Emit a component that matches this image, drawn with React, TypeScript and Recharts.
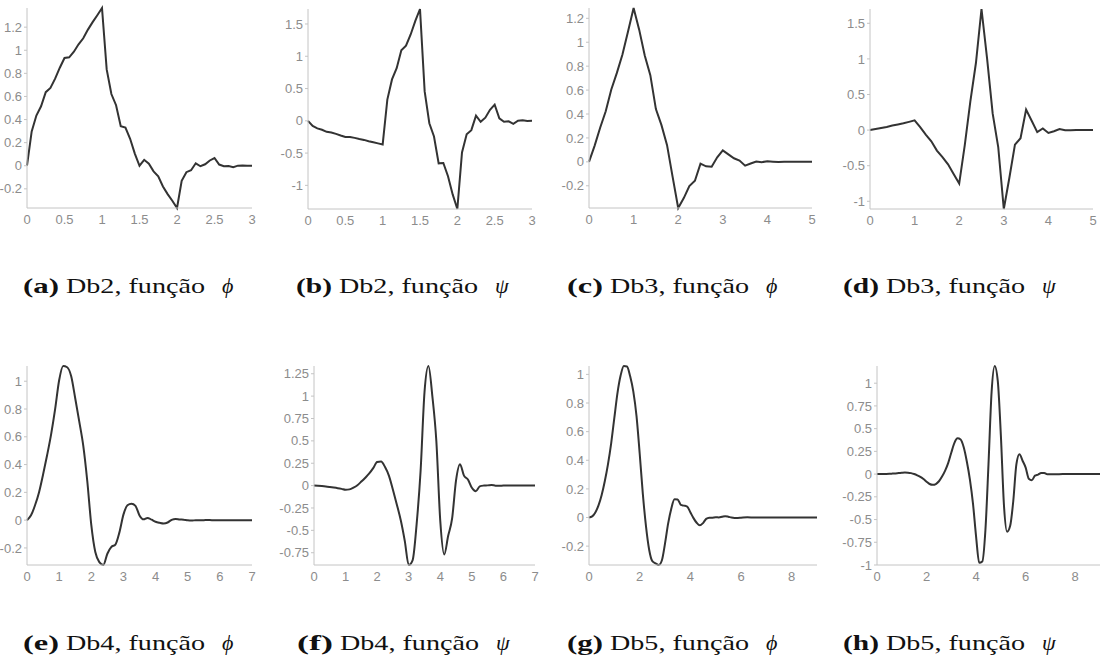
import React from 'react';
import { LineChart, Line, XAxis, YAxis } from 'recharts';

type Pt = [number, number];

// Daubechies 2 scaling function, support [0, 3]
const db2Phi: Pt[] = [
  [0, 0], [0.0625, 0.297], [0.125, 0.435], [0.1875, 0.515], [0.25, 0.637], [0.3125, 0.674],
  [0.375, 0.754], [0.4375, 0.849], [0.5, 0.933], [0.5625, 0.939], [0.625, 0.987], [0.6875, 1.0515],
  [0.75, 1.104], [0.8125, 1.179], [0.875, 1.2435], [0.9375, 1.3035], [1, 1.366], [1.0625, 0.8343],
  [1.125, 0.621], [1.1875, 0.524], [1.25, 0.342], [1.3125, 0.33], [1.375, 0.2335], [1.4375, 0.1054],
  [1.5, 0], [1.5625, 0.0512], [1.625, 0.0169], [1.6875, -0.0489], [1.75, -0.0915], [1.8125, -0.1798],
  [1.875, -0.2454], [1.9375, -0.3028], [2, -0.366], [2.0625, -0.1313], [2.125, -0.0559], [2.1875, -0.0386],
  [2.25, 0.0212], [2.3125, -0.0043], [2.375, 0.0128], [2.4375, 0.0456], [2.5, 0.067], [2.5625, 0.0102],
  [2.625, -0.0039], [2.6875, -0.0023], [2.75, -0.0122], [2.8125, 0.0007], [2.875, 0.0022], [2.9375, -0.0004],
  [3, 0],
];

// Daubechies 2 wavelet, support [0, 3]
const db2Psi: Pt[] = [
  [0, 0], [0.0625, -0.0796], [0.125, -0.1166], [0.1875, -0.138], [0.25, -0.1707], [0.3125, -0.1806],
  [0.375, -0.202], [0.4375, -0.2276], [0.5, -0.25], [0.5625, -0.2515], [0.625, -0.2645], [0.6875, -0.2817],
  [0.75, -0.2958], [0.8125, -0.316], [0.875, -0.3333], [0.9375, -0.3493], [1, -0.366], [1.0625, 0.3279],
  [1.125, 0.6413], [1.1875, 0.8157], [1.25, 1.0914], [1.3125, 1.1629], [1.375, 1.3372], [1.4375, 1.5484],
  [1.5, 1.732], [1.5625, 0.4552], [1.625, -0.0372], [1.6875, -0.2429], [1.75, -0.6584], [1.8125, -0.6529],
  [1.875, -0.8583], [1.9375, -1.1403], [2, -1.366], [2.0625, -0.4902], [2.125, -0.2085], [2.1875, -0.1444],
  [2.25, 0.0793], [2.3125, -0.0161], [2.375, 0.0481], [2.4375, 0.1702], [2.5, 0.25], [2.5625, 0.0382],
  [2.625, -0.0145], [2.6875, -0.0087], [2.75, -0.0458], [2.8125, 0.0027], [2.875, 0.0083], [2.9375, -0.0015],
  [3, 0],
];

// Daubechies 3 scaling function, support [0, 5]
const db3Phi: Pt[] = [
  [0, 0], [0.125, 0.134], [0.25, 0.2848], [0.375, 0.4226], [0.5, 0.6052], [0.625, 0.7437],
  [0.75, 0.8982], [0.875, 1.0906], [1, 1.2863], [1.125, 1.1053], [1.25, 0.89], [1.375, 0.7244],
  [1.5, 0.4412], [1.625, 0.3071], [1.75, 0.1396], [1.875, -0.1255], [2, -0.3858], [2.125, -0.303],
  [2.25, -0.2029], [2.375, -0.158], [2.5, -0.015], [2.625, -0.037], [2.75, -0.0406], [2.875, 0.0376],
  [3, 0.0953], [3.125, 0.0621], [3.25, 0.0299], [3.375, 0.0113], [3.5, -0.0315], [3.625, -0.0134],
  [3.75, 0.0031], [3.875, -0.0024], [4, 0.0042], [4.125, 0.0017], [4.25, -0.0016], [4.375, 0.0002],
  [4.5, 0.0002], [4.625, -0.0001], [4.75, 0], [4.875, 0], [5, 0],
];

// Daubechies 3 wavelet, support [0, 5]
const db3Psi: Pt[] = [
  [0, 0], [0.125, 0.0142], [0.25, 0.0301], [0.375, 0.0447], [0.5, 0.0641], [0.625, 0.0787],
  [0.75, 0.0951], [0.875, 0.1155], [1, 0.1362], [1.125, 0.043], [1.25, -0.0629], [1.375, -0.1566],
  [1.5, -0.2875], [1.625, -0.3781], [1.75, -0.4812], [1.875, -0.6155], [2, -0.7512], [2.125, -0.2117],
  [2.25, 0.4027], [2.375, 0.9423], [2.5, 1.701], [2.625, 1.0077], [2.75, 0.2346], [2.875, -0.2375],
  [3, -1.1082], [3.125, -0.6693], [3.25, -0.2042], [3.375, -0.114], [3.5, 0.2875], [3.625, 0.1306],
  [3.75, -0.0289], [3.875, 0.0226], [4, -0.04], [4.125, -0.0159], [4.25, 0.015], [4.375, -0.0015],
  [4.5, -0.002], [4.625, 0.0008], [4.75, -0.0001], [4.875, 0], [5, 0],
];

// Daubechies 4 scaling function, support [0, 7]
const db4Phi: Pt[] = [
  [0, 0], [0.125, 0.0348], [0.25, 0.1069], [0.375, 0.2012], [0.5, 0.3281], [0.625, 0.4667],
  [0.75, 0.6175], [0.875, 0.7989], [1, 1.0072], [1.125, 1.1096], [1.25, 1.1007], [1.375, 1.0356],
  [1.5, 0.8773], [1.625, 0.7108], [1.75, 0.5361], [1.875, 0.2817], [2, -0.0338], [2.125, -0.2297],
  [2.25, -0.3022], [2.375, -0.3229], [2.5, -0.2421], [2.625, -0.1929], [2.75, -0.1755], [2.875, -0.0881],
  [3, 0.0396], [3.125, 0.1067], [3.25, 0.1182], [3.375, 0.1026], [3.5, 0.0342], [3.625, 0.0056],
  [3.75, 0.0163], [3.875, 0.0034], [4, -0.0118], [4.125, -0.0192], [4.25, -0.0236], [4.375, -0.0169],
  [4.5, 0.0021], [4.625, 0.0091], [4.75, 0.0053], [4.875, 0.0036], [5, -0.0012], [5.125, -0.0029],
  [5.25, -0.0004], [5.375, 0], [5.5, 0.0001], [5.625, 0.0004], [5.75, 0], [6, 0], [6.5, 0], [7, 0],
];

// Daubechies 4 wavelet, support [0, 7]
const db4Psi: Pt[] = [
  [0, 0], [0.125, -0.0016], [0.25, -0.0049], [0.375, -0.0093], [0.5, -0.0151], [0.625, -0.0215],
  [0.75, -0.0285], [0.875, -0.0367], [1, -0.0463], [1.125, -0.042], [1.25, -0.0229], [1.375, 0.0046],
  [1.5, 0.0449], [1.625, 0.0886], [1.75, 0.1359], [1.875, 0.1947], [2, 0.2633], [2.125, 0.2686],
  [2.25, 0.2068], [2.375, 0.1087], [2.5, -0.0466], [2.625, -0.2126], [2.75, -0.39], [2.875, -0.618],
  [3, -0.8872], [3.125, -0.8316], [3.25, -0.4323], [3.375, 0.1574], [3.5, 1.0436], [3.625, 1.3366],
  [3.75, 0.9952], [3.875, 0.4981], [4, -0.3974], [4.125, -0.7688], [4.25, -0.5611], [4.375, -0.3668],
  [4.5, 0.0615], [4.625, 0.2391], [4.75, 0.1116], [4.875, 0.069], [5, -0.0237], [5.125, -0.062],
  [5.25, -0.0091], [5.375, 0.0001], [5.5, 0.0026], [5.625, 0.0073], [5.75, -0.0006], [5.875, -0.0017],
  [6, 0.0004], [6.125, 0.0001], [6.5, 0], [7, 0],
];

// Daubechies 5 scaling function, support [0, 9]
const db5Phi: Pt[] = [
  [0, 0], [0.125, 0.0081], [0.25, 0.0357], [0.375, 0.0846], [0.5, 0.1576], [0.625, 0.2554],
  [0.75, 0.3735], [0.875, 0.5181], [1, 0.6961], [1.125, 0.871], [1.25, 0.9935], [1.375, 1.0587],
  [1.5, 1.0553], [1.625, 0.9864], [1.75, 0.8797], [1.875, 0.7097], [2, 0.4491], [2.125, 0.1648],
  [2.25, -0.0615], [2.375, -0.225], [2.5, -0.3052], [2.625, -0.3198], [2.75, -0.3318], [2.875, -0.3002],
  [3, -0.1823], [3.125, -0.0414], [3.25, 0.0631], [3.375, 0.1268], [3.5, 0.1257], [3.625, 0.0886],
  [3.75, 0.0831], [3.875, 0.0765], [4, 0.0372], [4.125, -0.0042], [4.25, -0.0368], [4.375, -0.0549],
  [4.5, -0.0389], [4.625, -0.0097], [4.75, -0.0015], [4.875, -0.0009], [5, 0.0015], [5.125, 0.0005],
  [5.25, 0.0047], [5.375, 0.0094], [5.5, 0.0053], [5.625, -0.0006], [5.75, -0.0028], [5.875, -0.0033],
  [6, -0.0017], [6.25, 0.0013], [6.5, 0.0002], [6.75, -0.0003], [7, 0], [8, 0], [9, 0],
];

// Daubechies 5 wavelet, support [0, 9]
const db5Psi: Pt[] = [
  [0, 0], [0.125, 0.0002], [0.25, 0.0007], [0.375, 0.0018], [0.5, 0.0033], [0.625, 0.0053],
  [0.75, 0.0078], [0.875, 0.0108], [1, 0.0145], [1.125, 0.0171], [1.25, 0.0159], [1.375, 0.0108],
  [1.5, 0.001], [1.625, -0.0135], [1.75, -0.0314], [1.875, -0.0543], [2, -0.0834], [2.125, -0.1091],
  [2.25, -0.1182], [2.375, -0.1091], [2.5, -0.0787], [2.625, -0.0275], [2.75, 0.0376], [2.875, 0.1235],
  [3, 0.2377], [3.125, 0.3437], [3.25, 0.393], [3.375, 0.3805], [3.5, 0.2943], [3.625, 0.138],
  [3.75, -0.061], [3.875, -0.3277], [4, -0.6895], [4.125, -0.9765], [4.25, -0.9618], [4.375, -0.6182],
  [4.5, 0.1117], [4.625, 0.9026], [4.75, 1.1891], [4.875, 1.0223], [5, 0.4204], [5.125, -0.3477],
  [5.25, -0.6341], [5.375, -0.5689], [5.5, -0.2958], [5.625, 0.1068], [5.75, 0.2173], [5.875, 0.1471],
  [6, 0.0712], [6.125, -0.0503], [6.25, -0.067], [6.375, -0.0174], [6.5, -0.0054], [6.625, 0.0111],
  [6.75, 0.0131], [6.875, -0.0017], [7, -0.0019], [7.25, -0.001], [7.5, 0.0004], [7.75, 0], [8, 0],
  [9, 0],
];

const xTicks3 = [0, 0.5, 1, 1.5, 2, 2.5, 3];
const xTicks5 = [0, 1, 2, 3, 4, 5];
const xTicks7 = [0, 1, 2, 3, 4, 5, 6, 7];
const xTicks9 = [0, 2, 4, 6, 8];
const yTicksTenths = [-0.2, 0, 0.2, 0.4, 0.6, 0.8, 1, 1.2];
const yTicksTenthsShort = [-0.2, 0, 0.2, 0.4, 0.6, 0.8, 1];
const yTicksHalves = [-1, -0.5, 0, 0.5, 1, 1.5];
const yTicksQuartersDb4 = [-0.75, -0.5, -0.25, 0, 0.25, 0.5, 0.75, 1, 1.25];
const yTicksQuartersDb5 = [-1, -0.75, -0.5, -0.25, 0, 0.25, 0.5, 0.75, 1];

const captionLetters = ['(a)', '(b)', '(c)', '(d)', '(e)', '(f)', '(g)', '(h)'];
const waveletNames = ['Db2', 'Db2', 'Db3', 'Db3', 'Db4', 'Db4', 'Db5', 'Db5'];
const functionSymbols = ['\u03D5', '\u03C8', '\u03D5', '\u03C8', '\u03D5', '\u03C8', '\u03D5', '\u03C8'];

type Panel = {
  points: Pt[];
  xMax: number;
  xTicks: number[];
  yTicks: number[];
  yFloor?: number;
  curve: 'linear' | 'monotone';
  left: number;
  right: number;
  top: number;
  bottom: number;
  captionX: number;
};

const panels: Panel[] = [
  { points: db2Phi, xMax: 3, xTicks: xTicks3, yTicks: yTicksTenths, curve: 'linear', left: 27, right: 252, top: 8, bottom: 208, captionX: 23 },
  { points: db2Psi, xMax: 3, xTicks: xTicks3, yTicks: yTicksHalves, curve: 'linear', left: 308, right: 532, top: 9, bottom: 209, captionX: 296 },
  { points: db3Phi, xMax: 5, xTicks: xTicks5, yTicks: yTicksTenths, curve: 'linear', left: 589, right: 812, top: 8, bottom: 208, captionX: 567 },
  { points: db3Psi, xMax: 5, xTicks: xTicks5, yTicks: yTicksHalves, curve: 'linear', left: 870, right: 1093, top: 9, bottom: 209, captionX: 843 },
  { points: db4Phi, xMax: 7, xTicks: xTicks7, yTicks: yTicksTenthsShort, curve: 'monotone', left: 27, right: 252, top: 366, bottom: 565, captionX: 23 },
  { points: db4Psi, xMax: 7, xTicks: xTicks7, yTicks: yTicksQuartersDb4, curve: 'monotone', left: 314, right: 535, top: 366, bottom: 565, captionX: 297 },
  { points: db5Phi, xMax: 9, xTicks: xTicks9, yTicks: yTicksTenthsShort, curve: 'monotone', left: 589, right: 817, top: 366, bottom: 565, captionX: 567 },
  { points: db5Psi, xMax: 9, xTicks: xTicks9, yTicks: yTicksQuartersDb5, yFloor: -1, curve: 'monotone', left: 877, right: 1100, top: 366, bottom: 565, captionX: 843 },
];

const Y_AXIS_W = 40;
const X_AXIS_H = 30;
const PAD_TOP = 10;
const PAD_RIGHT = 10;
const AXIS_COLOR = '#c4c4c4';
const TICK_STYLE = { fill: '#8c8c8c', fontSize: 13, fontFamily: '"Liberation Sans", Arial, sans-serif' };
const CAPTION_BASELINES = [293, 650];

function WaveletPanel({ p }: { p: Panel }) {
  const data = p.points.map(([x, y]) => ({ x, y }));
  const ys = p.points.map((d) => d[1]);
  const yMin = p.yFloor !== undefined ? p.yFloor : Math.min(...ys);
  const yMax = Math.max(...ys);
  const width = p.right - p.left + Y_AXIS_W + PAD_RIGHT;
  const height = p.bottom - p.top + PAD_TOP + X_AXIS_H;
  return (
    <div style={{ position: 'absolute', left: p.left - Y_AXIS_W, top: p.top - PAD_TOP }}>
      <LineChart width={width} height={height} data={data} margin={{ top: PAD_TOP, right: PAD_RIGHT, bottom: 0, left: 0 }}>
        <XAxis
          type="number"
          dataKey="x"
          domain={[0, p.xMax]}
          ticks={p.xTicks}
          interval={0}
          height={X_AXIS_H}
          axisLine={{ stroke: AXIS_COLOR }}
          tickLine={false}
          tickSize={4}
          tickMargin={3}
          tick={TICK_STYLE}
        />
        <YAxis
          type="number"
          dataKey="y"
          domain={[yMin, yMax]}
          ticks={p.yTicks}
          interval={0}
          width={Y_AXIS_W}
          axisLine={{ stroke: AXIS_COLOR }}
          tickLine={{ stroke: AXIS_COLOR }}
          tickSize={3}
          tickMargin={2}
          tick={TICK_STYLE}
        />
        <Line
          type={p.curve}
          dataKey="y"
          stroke="#333333"
          strokeWidth={2}
          dot={false}
          activeDot={false}
          isAnimationActive={false}
        />
      </LineChart>
    </div>
  );
}

function Captions() {
  return (
    <svg width={1100} height={664} style={{ position: 'absolute', left: 0, top: 0, pointerEvents: 'none' }}>
      {panels.map((p, i) => {
        const y = CAPTION_BASELINES[i < 4 ? 0 : 1];
        const x0 = p.captionX;
        return (
          <g key={i} fontFamily='"Liberation Serif", "DejaVu Serif", serif' fontSize={21} fill="#111">
            <text x={x0} y={y} fontWeight="bold" textLength={36} lengthAdjust="spacingAndGlyphs">
              {captionLetters[i]}
            </text>
            <text x={x0 + 43} y={y} textLength={139} lengthAdjust="spacingAndGlyphs">
              {`${waveletNames[i]}, função`}
            </text>
            <text x={x0 + 199} y={y} fontStyle="italic" fontSize={22}>
              {functionSymbols[i]}
            </text>
          </g>
        );
      })}
    </svg>
  );
}

export default function App() {
  return (
    <div style={{ position: 'absolute', left: 0, top: 0, width: 1100, height: 664, overflow: 'hidden', background: '#fff' }}>
      {panels.map((p, i) => (
        <WaveletPanel key={i} p={p} />
      ))}
      <Captions />
    </div>
  );
}
